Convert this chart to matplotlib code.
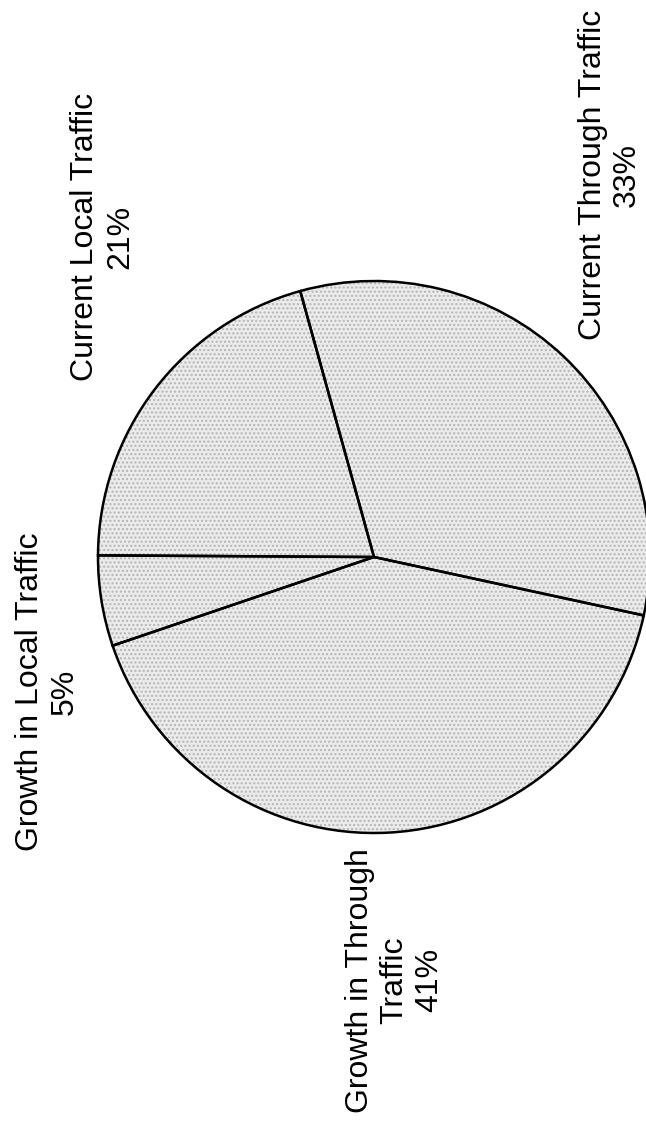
import matplotlib
matplotlib.use("Agg")
import matplotlib.pyplot as plt

plt.rcParams['font.family'] = ['Liberation Sans', 'DejaVu Sans']

# shares (labels show them rounded)
categories = ["Current Local Traffic", "Growth in Local Traffic",
              "Growth in Through\nTraffic", "Current Through Traffic"]
shares = [20.6, 5.3, 41.4, 32.7]

# where each label block sits, in figure fractions
label_pos = [(0.159, 0.789), (0.073, 0.384), (0.611, 0.127), (0.944, 0.844)]

fig = plt.figure(figsize=(6.46, 11.23), dpi=100)
fig.patch.set_facecolor('white')

# pie centre at about (374, 557) px, radius about 276 px
cx, cy, r = 374, 557, 276
W, H = 646, 1123
ax = fig.add_axes([(cx - r) / W, 1 - (cy + r) / H, 2 * r / W, 2 * r / H])

# light speckled fill, then the outlines on top
ax.pie(shares, startangle=105.5, counterclock=True, radius=1,
       colors=['#ebebeb'] * len(shares),
       wedgeprops=dict(edgecolor='#b4b4b4', linewidth=0, hatch='....'))
ax.pie(shares, startangle=105.5, counterclock=True, radius=1,
       colors=['none'] * len(shares),
       wedgeprops=dict(edgecolor='black', linewidth=1.8))
ax.set_xlim(-1, 1)
ax.set_ylim(-1, 1)
ax.set_aspect('equal')
ax.axis('off')
for p in ax.patches:
    p.set_clip_on(False)

for name, val, (x, y) in zip(categories, shares, label_pos):
    fig.text(x, y, "%s\n%d%%" % (name, round(val)), rotation=90,
             ha='center', va='center', multialignment='center',
             fontsize=23, color='black')

fig.savefig("out.png", dpi=100)
